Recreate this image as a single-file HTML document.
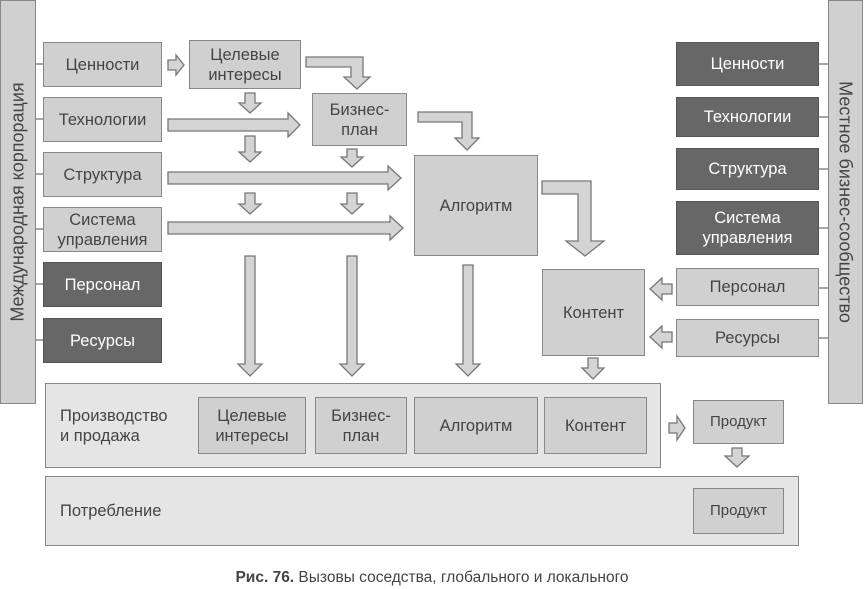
<!DOCTYPE html>
<html><head><meta charset="utf-8"><style>
body{margin:0;width:864px;height:589px;background:#fff;position:relative;overflow:hidden;font-family:"Liberation Sans","DejaVu Sans",sans-serif;}
.b{position:absolute;box-sizing:border-box;background:#d0d0d0;border:1.5px solid #888;color:#444;display:flex;align-items:center;justify-content:center;text-align:center;font-size:16.5px;line-height:20px;}
.d{background:#676767;color:#fff;border-color:#555;}
.big{background:#e5e5e5;justify-content:flex-start;padding-left:14px;text-align:left;}
.v{position:absolute;font-size:18px;color:#444;white-space:nowrap;}
svg{position:absolute;left:0;top:0;}
</style></head><body>
<svg width="864" height="589">
<g stroke="#888" stroke-width="1.5">
<line x1="35" y1="64" x2="43" y2="64"/><line x1="35" y1="119" x2="43" y2="119"/><line x1="35" y1="174" x2="43" y2="174"/><line x1="35" y1="229" x2="43" y2="229"/><line x1="35" y1="284" x2="43" y2="284"/><line x1="35" y1="340" x2="43" y2="340"/>
<line x1="819" y1="64" x2="829" y2="64"/><line x1="819" y1="117" x2="829" y2="117"/><line x1="819" y1="169" x2="829" y2="169"/><line x1="819" y1="228" x2="829" y2="228"/><line x1="819" y1="288" x2="829" y2="288"/><line x1="819" y1="338" x2="829" y2="338"/>
</g>
<g fill="#d4d4d4" stroke="#777" stroke-width="1.3">
<polygon points="168,60 176,60 176,55 184,65 176,75 176,70 168,70"/>
<polygon points="306,57 363,57 363,77 370,77 357,89 344,77 351,77 351,67 306,67"/>
<polygon points="418,112 472,112 472,138 479,138 467,150 455,138 462,138 462,122 418,122"/>
<polygon points="542,181 591,181 591,241 604,241 585,256 566,241 578,241 578,194 542,194"/>
<polygon points="245,93 255,93 255,103 261,103 250,113 239,103 245,103"/>
<polygon points="245,136 255,136 255,152 261,152 250,162 239,152 245,152"/>
<polygon points="245,193 255,193 255,204 261,204 250,214 239,204 245,204"/>
<polygon points="347,149 357,149 357,157 363,157 352,167 341,157 347,157"/>
<polygon points="347,193 357,193 357,204 363,204 352,214 341,204 347,204"/>
<polygon points="168,119 288,119 288,113 300,125 288,137 288,131 168,131"/>
<polygon points="168,172 388,172 388,166 401,178 388,190 388,184 168,184"/>
<polygon points="168,222 390,222 390,216 403,228 390,240 390,234 168,234"/>
<polygon points="245,256 255,256 255,364 262,364 250,376 238,364 245,364"/>
<polygon points="347,256 357,256 357,364 364,364 352,376 340,364 347,364"/>
<polygon points="463,265 473,265 473,364 480,364 468,376 456,364 463,364"/>
<polygon points="588,358 598,358 598,368 604,368 593,379 582,368 588,368"/>
<polygon points="672,284 662,284 662,278 650,289 662,300 662,294 672,294"/>
<polygon points="672,332 662,332 662,326 650,337 662,348 662,342 672,342"/>
<polygon points="669,423 677,423 677,416 685,428 677,440 677,433 669,433"/>
<polygon points="732,448 742,448 742,456 749,456 737,467 725,456 732,456"/>
</g>
</svg>
<div class="b" style="left:0;top:0;width:36px;height:404px"></div>
<div class="v" style="left:18px;top:202px;transform:translate(-50%,-50%) rotate(-90deg)">Международная корпорация</div>
<div class="b" style="left:828px;top:0;width:35px;height:404px"></div>
<div class="v" style="left:845px;top:202px;transform:translate(-50%,-50%) rotate(90deg)">Местное бизнес-сообщество</div>

<div class="b" style="left:43px;top:42px;width:119px;height:45px">Ценности</div>
<div class="b" style="left:43px;top:97px;width:119px;height:45px">Технологии</div>
<div class="b" style="left:43px;top:152px;width:119px;height:45px">Структура</div>
<div class="b" style="left:43px;top:207px;width:119px;height:45px">Система<br>управления</div>
<div class="b d" style="left:43px;top:262px;width:119px;height:45px">Персонал</div>
<div class="b d" style="left:43px;top:318px;width:119px;height:45px">Ресурсы</div>

<div class="b" style="left:189px;top:40px;width:112px;height:49px">Целевые<br>интересы</div>
<div class="b" style="left:312px;top:93px;width:95px;height:53px">Бизнес-<br>план</div>
<div class="b" style="left:414px;top:155px;width:124px;height:101px">Алгоритм</div>
<div class="b" style="left:542px;top:269px;width:103px;height:87px">Контент</div>

<div class="b d" style="left:676px;top:42px;width:143px;height:44px">Ценности</div>
<div class="b d" style="left:676px;top:97px;width:143px;height:40px">Технологии</div>
<div class="b d" style="left:676px;top:148px;width:143px;height:42px">Структура</div>
<div class="b d" style="left:676px;top:201px;width:143px;height:54px">Система<br>управления</div>
<div class="b" style="left:676px;top:268px;width:143px;height:38px">Персонал</div>
<div class="b" style="left:676px;top:319px;width:143px;height:38px">Ресурсы</div>

<div class="b big" style="left:45px;top:383px;width:616px;height:85px">Производство<br>и продажа</div>
<div class="b" style="left:198px;top:397px;width:108px;height:57px">Целевые<br>интересы</div>
<div class="b" style="left:315px;top:397px;width:92px;height:57px">Бизнес-<br>план</div>
<div class="b" style="left:414px;top:397px;width:124px;height:57px">Алгоритм</div>
<div class="b" style="left:544px;top:397px;width:103px;height:57px">Контент</div>
<div class="b" style="left:693px;top:400px;width:91px;height:44px;font-size:15px">Продукт</div>
<div class="b big" style="left:45px;top:476px;width:754px;height:70px">Потребление</div>
<div class="b" style="left:693px;top:488px;width:91px;height:46px;font-size:15px">Продукт</div>

<div style="position:absolute;left:0;width:864px;top:569px;text-align:center;font-size:15.5px;color:#444"><b>Рис. 76.</b> Вызовы соседства, глобального и локального</div>
</body></html>
